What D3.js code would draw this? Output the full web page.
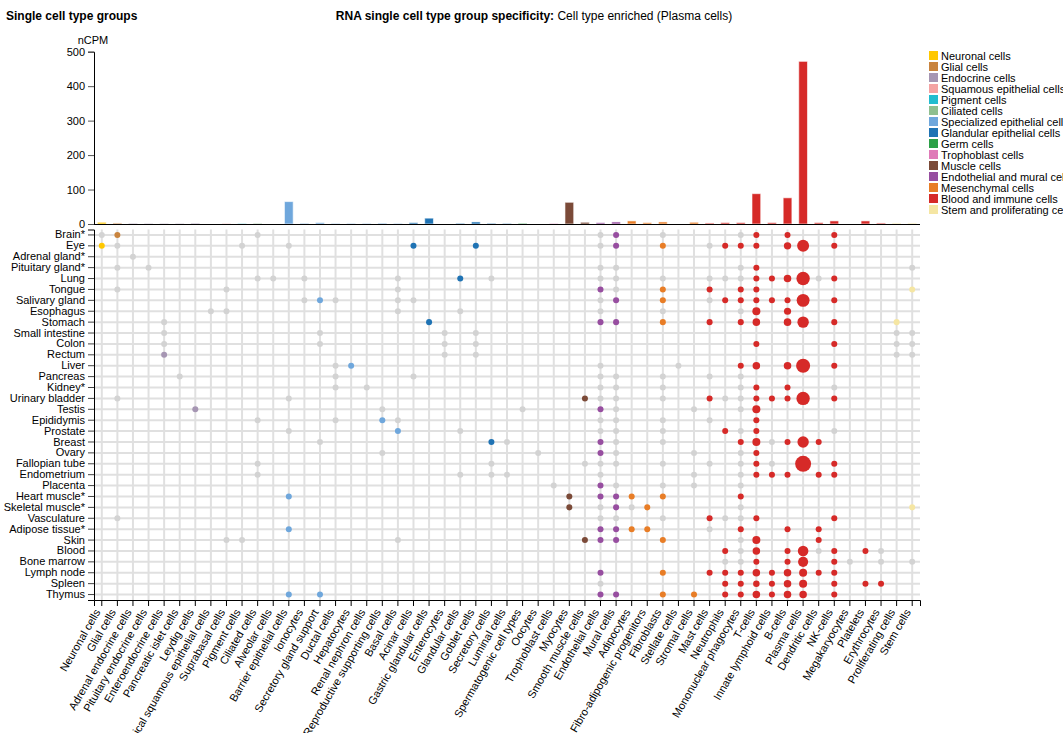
<!DOCTYPE html>
<html>
<head>
<meta charset="utf-8">
<script src="https://cdn.jsdelivr.net/npm/d3@7"></script>
<style>
    body { margin: 0; background: #fff; }
    svg { display: block; }
</style>
</head>
<body>
<div id="chart"></div>
<script>
const groups = [
    "Neuronal cells", "Glial cells", "Endocrine cells", "Squamous epithelial cells",
    "Pigment cells", "Ciliated cells", "Specialized epithelial cells", "Glandular epithelial cells",
    "Germ cells", "Trophoblast cells", "Muscle cells", "Endothelial and mural cells",
    "Mesenchymal cells", "Blood and immune cells", "Stem and proliferating cells"
];
const groupColors = [
    "#ffc800", "#c9843e", "#a696b3", "#f4a3a3", "#22bccf", "#8fbf8f", "#6fa7dc", "#1f73b4",
    "#2ca048", "#df7ab8", "#7b4a38", "#974ea0", "#e87d26", "#d62a28", "#f5e6a3"
];

const cellTypes = [
    "Neuronal cells", "Glial cells", "Adrenal endocrine cells", "Pituitary endocrine cells",
    "Enteroendocrine cells", "Pancreatic islet cells", "Leydig cells", "Apical squamous epithelial cells",
    "Suprabasal cells", "Pigment cells", "Ciliated cells", "Alveolar cells", "Barrier epithelial cells",
    "Ionocytes", "Secretory gland support", "Ductal cells", "Hepatocytes", "Renal nephron cells",
    "Reproductive supporting cells", "Basal cells", "Acinar cells", "Gastric glandular cells",
    "Enterocytes", "Glandular cells", "Goblet cells", "Secretory cells", "Luminal cells",
    "Spermatogenic cell types", "Oocytes", "Trophoblast cells", "Myocytes", "Smooth muscle cells",
    "Endothelial cells", "Mural cells", "Adipocytes", "Fibro-adipogenic progenitors", "Fibroblasts",
    "Stellate cells", "Stromal cells", "Mast cells", "Neutrophils", "Mononuclear phagocytes",
    "T-cells", "Innate lymphoid cells", "B-cells", "Plasma cells", "Dendritic cells", "NK-cells",
    "Megakaryocytes", "Platelets", "Erythrocytes", "Proliferating cells", "Stem cells"
];
// index into groups for each cell type
const cellTypeGroup = [
    0, 1, 2, 2, 2, 2, 2, 3, 3, 4, 5, 6, 6, 6, 6, 6, 6, 6, 6, 6, 7, 7, 7, 7, 7, 7, 7,
    8, 8, 9, 10, 10, 11, 11, 12, 12, 12, 12, 12,
    13, 13, 13, 13, 13, 13, 13, 13, 13, 13, 13, 13, 14, 14
];
// max nCPM per cell type (bar chart)
const nCPM = [
    5, 3, 2, 1.5, 1.5, 1.5, 2.5, 0, 1.5, 1, 2, 0, 65, 2, 4, 1.5, 1.5, 1.5, 2.5, 1.5, 4, 17,
    0, 2, 6, 2, 1.5, 2, 0, 1.5, 63, 5, 4, 6, 9, 4, 6, 0, 5, 3, 4, 4, 88, 4, 76, 472, 4, 9,
    0, 9, 3, 3, 3
];
const yTicks = [0, 100, 200, 300, 400, 500];

const tissues = [
    "Brain*", "Eye", "Adrenal gland*", "Pituitary gland*", "Lung", "Tongue", "Salivary gland",
    "Esophagus", "Stomach", "Small intestine", "Colon", "Rectum", "Liver", "Pancreas", "Kidney*",
    "Urinary bladder", "Testis", "Epididymis", "Prostate", "Breast", "Ovary", "Fallopian tube",
    "Endometrium", "Placenta", "Heart muscle*", "Skeletal muscle*", "Vasculature", "Adipose tissue*",
    "Skin", "Blood", "Bone marrow", "Lymph node", "Spleen", "Thymus"
];
// per tissue: [cell type index, nCPM, 1 = coloured by group / 0 = grey]
const tissueDots = [
    [[0,1,0],[1,1,1],[10,1,0],[32,1,0],[33,1,1],[36,1,0],[41,1,0],[42,1,1],[44,1,1],[47,1,1]],
    [[0,1,1],[1,1,0],[9,1,0],[12,1,0],[20,1,1],[24,1,1],[32,1,0],[33,1,1],[36,1,1],[39,1,0],[40,1,1],[41,1,1],[42,1,1],[44,10,1],[45,115,1],[47,1,1]],
    [[2,1,0]],
    [[1,1,0],[3,1,0],[32,1,0],[33,1,0],[41,1,0],[42,1,1],[52,1,0]],
    [[10,1,0],[11,1,0],[13,1,0],[19,1,0],[23,1,1],[25,1,0],[32,1,0],[33,1,0],[36,1,0],[39,1,0],[40,1,0],[41,1,0],[42,1,1],[43,1,1],[44,12,1],[45,170,1],[46,1,0],[47,1,1]],
    [[1,1,0],[8,1,0],[19,1,0],[32,1,1],[33,1,0],[36,1,1],[39,1,1],[41,1,1],[42,1,1],[52,1,1]],
    [[13,1,0],[14,1,1],[15,1,0],[19,1,0],[20,1,0],[32,1,0],[33,1,1],[36,1,1],[39,1,0],[40,1,1],[41,1,1],[42,1,1],[43,1,1],[44,1,1],[45,150,1],[47,1,1]],
    [[7,1,0],[8,1,0],[19,1,0],[23,1,0],[32,1,0],[36,1,0],[41,1,0],[42,18,1],[44,8,1]],
    [[4,1,0],[21,1,1],[32,1,1],[33,1,1],[36,1,1],[39,1,1],[41,1,1],[42,12,1],[44,12,1],[45,96,1],[47,1,1],[51,1,1]],
    [[4,1,0],[14,1,0],[22,1,0],[24,1,0],[51,1,0],[52,1,0]],
    [[4,1,0],[14,1,0],[22,1,0],[24,1,0],[42,1,1],[47,1,1],[51,1,0],[52,1,0]],
    [[4,1,1],[22,1,0],[24,1,0],[51,1,0],[52,1,0]],
    [[15,1,0],[16,1,1],[32,1,0],[37,1,0],[41,1,1],[42,12,1],[44,12,1],[45,200,1],[47,1,1]],
    [[5,1,0],[15,1,0],[20,1,0],[32,1,0],[33,1,0],[36,1,0],[39,1,0],[41,1,0]],
    [[15,1,0],[17,1,0],[32,1,0],[33,1,0],[36,1,0],[41,1,0],[42,1,1],[44,1,1],[47,1,0]],
    [[1,1,0],[12,1,0],[31,1,1],[32,1,0],[33,1,0],[36,1,0],[39,1,1],[40,1,0],[41,1,0],[42,1,1],[43,1,1],[44,1,1],[45,170,1],[47,1,1]],
    [[6,1,1],[18,1,0],[27,1,0],[32,1,1],[33,1,0],[38,1,0],[41,1,0],[42,18,1]],
    [[10,1,0],[15,1,0],[18,1,1],[19,1,0],[32,1,0],[33,1,0],[36,1,0],[39,1,0],[42,1,1]],
    [[12,1,0],[19,1,1],[23,1,0],[32,1,0],[33,1,0],[36,1,0],[40,1,1],[41,1,0],[42,1,1],[47,1,0]],
    [[14,1,0],[25,1,1],[26,1,0],[32,1,1],[33,1,0],[36,1,0],[41,1,1],[42,18,1],[43,1,0],[44,1,1],[45,96,1],[46,1,1]],
    [[18,1,0],[28,1,0],[32,1,1],[33,1,0],[38,1,0],[41,1,0],[42,1,1]],
    [[10,1,0],[25,1,0],[31,1,0],[32,1,0],[33,1,0],[36,1,0],[39,1,0],[41,1,0],[42,1,1],[43,1,0],[45,300,1],[47,1,1]],
    [[10,1,0],[23,1,0],[25,1,0],[26,1,0],[32,1,0],[38,1,0],[41,1,0],[42,1,1],[43,1,1],[44,1,1],[46,1,1],[47,1,1]],
    [[29,1,0],[32,1,1],[33,1,0],[36,1,0],[38,1,0],[41,1,0]],
    [[12,1,1],[30,1,1],[32,1,1],[33,1,1],[34,1,1],[36,1,1],[41,1,1]],
    [[30,1,1],[32,1,0],[33,1,1],[34,1,0],[35,1,1],[41,1,0],[52,1,1]],
    [[1,1,0],[32,1,0],[33,1,0],[36,1,0],[39,1,1],[40,1,0],[41,1,0],[42,1,1],[47,1,1]],
    [[12,1,1],[32,1,1],[33,1,1],[34,1,1],[35,1,1],[39,1,0],[41,1,1],[44,1,1],[46,1,1]],
    [[8,1,0],[9,1,0],[19,1,0],[31,1,1],[32,1,1],[33,1,1],[36,1,1],[41,1,0],[42,18,1],[46,1,1]],
    [[40,1,1],[41,1,0],[42,12,1],[44,1,1],[45,72,1],[46,1,0],[47,1,1],[49,1,1],[50,1,0]],
    [[40,1,0],[41,1,0],[42,1,1],[44,1,1],[45,60,1],[47,1,1],[48,1,0],[50,1,0],[52,1,0]],
    [[32,1,1],[36,1,1],[39,1,1],[40,1,1],[41,1,1],[42,12,1],[43,1,1],[44,12,1],[45,18,1],[46,1,1],[47,1,1]],
    [[32,1,0],[40,1,1],[41,1,1],[42,3,1],[43,1,1],[44,12,1],[45,18,1],[47,1,1],[49,1,1],[50,1,1]],
    [[12,1,1],[14,1,1],[32,1,1],[33,1,1],[36,1,1],[38,1,1],[40,1,1],[41,1,1],[42,12,1],[43,1,1],[44,12,1],[45,12,1],[47,1,1]]
];

const labelFont = "'Liberation Sans', Arial, sans-serif";
const titleFont = "'Liberation Sans', Arial, sans-serif";

function drawChart() {
    const width = 1063;
    const height = 733;
    const left = 94, right = 920;
    const barTop = 51.7, barBottom = 224;
    const dotTop = 229.5, dotBottom = 600;

    const svg = d3.select("#chart")
        .append("svg")
        .attr("width", width)
        .attr("height", height);

    // titles
    svg.append("text")
        .attr("x", 6)
        .attr("y", 20)
        .style("font-family", titleFont)
        .style("font-size", "12px")
        .style("font-weight", "bold")
        .text("Single cell type groups");

    const title = svg.append("text")
        .attr("x", 534)
        .attr("y", 20)
        .attr("text-anchor", "middle")
        .style("font-family", titleFont)
        .style("font-size", "12px");
    title.append("tspan").style("font-weight", "bold").text("RNA single cell type group specificity:");
    title.append("tspan").text(" Cell type enriched (Plasma cells)");

    // x scale shared by bars and dots
    const x = d3.scaleBand()
        .domain(cellTypes)
        .range([left, right])
        .paddingInner(0.44)
        .paddingOuter(0.22);
    const cx = d => x(d) + x.bandwidth() / 2;

    // bar chart
    const y = d3.scaleLinear()
        .domain([0, 500])
        .range([barBottom, barTop]);

    const yAxis = svg.append("g")
        .attr("transform", `translate(${left},0)`)
        .call(d3.axisLeft(y).tickValues(yTicks).tickSize(6).tickPadding(3));
    yAxis.selectAll("text").style("font-family", labelFont).style("font-size", "11px").attr("fill", "#000");
    yAxis.selectAll(".tick line").attr("stroke", "#555");

    svg.append("text")
        .attr("x", 93)
        .attr("y", 44)
        .attr("text-anchor", "middle")
        .style("font-family", labelFont)
        .style("font-size", "11px")
        .text("nCPM");

    svg.append("g")
        .selectAll("rect")
        .data(cellTypes)
        .join("rect")
        .attr("x", d => x(d))
        .attr("y", (d, i) => y(nCPM[i]))
        .attr("width", x.bandwidth())
        .attr("height", (d, i) => y(0) - y(nCPM[i]))
        .attr("fill", (d, i) => groupColors[cellTypeGroup[i]])
        .attr("stroke", "#fff")
        .attr("stroke-opacity", 0.6)
        .attr("stroke-width", 1);

    svg.append("line")
        .attr("x1", left)
        .attr("x2", right)
        .attr("y1", barBottom + 0.5)
        .attr("y2", barBottom + 0.5)
        .attr("stroke", "#000");

    // dot matrix
    const yRow = d3.scaleBand()
        .domain(tissues)
        .range([dotTop, dotBottom]);
    const cy = d => yRow(d) + yRow.bandwidth() / 2;

    const grid = svg.append("g").attr("stroke", "#e0e0e0").attr("stroke-width", 2);
    grid.selectAll(".h")
        .data(tissues)
        .join("line")
        .attr("x1", left)
        .attr("x2", right)
        .attr("y1", d => cy(d))
        .attr("y2", d => cy(d));
    grid.selectAll(".v")
        .data(cellTypes)
        .join("line")
        .attr("x1", d => cx(d))
        .attr("x2", d => cx(d))
        .attr("y1", dotTop)
        .attr("y2", dotBottom);

    const r = d3.scaleSqrt()
        .domain([0, 300])
        .range([2.7, 8]);

    const dots = [];
    tissueDots.forEach((row, ti) => {
        row.forEach(([ci, v, c]) => {
            dots.push({tissue: tissues[ti], cell: cellTypes[ci], value: v,
                color: c ? groupColors[cellTypeGroup[ci]] : "#d3d3d3"});
        });
    });

    svg.append("g")
        .selectAll("circle")
        .data(dots)
        .join("circle")
        .attr("cx", d => cx(d.cell))
        .attr("cy", d => cy(d.tissue))
        .attr("r", d => r(d.value))
        .attr("fill", d => d.color);

    // row axis
    const rowAxis = svg.append("g")
        .attr("transform", `translate(${left},0)`)
        .call(d3.axisLeft(yRow).tickSize(6).tickPadding(3));
    rowAxis.selectAll("text").style("font-family", labelFont).style("font-size", "11px").attr("fill", "#000");
    rowAxis.selectAll(".tick line").attr("stroke", "#444");

    // column axis
    const colAxis = svg.append("g")
        .attr("transform", `translate(0,${dotBottom})`)
        .call(d3.axisBottom(x).tickSize(6).tickSizeOuter(6));
    colAxis.selectAll("text")
        .style("font-family", labelFont)
        .style("font-size", "11px")
        .attr("fill", "#000")
        .attr("text-anchor", "end")
        .attr("x", 0)
        .attr("y", 0)
        .attr("dy", 0)
        .attr("transform", "translate(-1,12) rotate(-60)");

    // legend
    const legend = svg.append("g")
        .attr("transform", "translate(929,51)");
    legend.selectAll("rect")
        .data(groups)
        .join("rect")
        .attr("x", 0)
        .attr("y", (d, i) => i * 11)
        .attr("width", 9)
        .attr("height", 9)
        .attr("fill", (d, i) => groupColors[i]);
    legend.selectAll("text")
        .data(groups)
        .join("text")
        .attr("x", 12)
        .attr("y", (d, i) => i * 11 + 8.5)
        .style("font-family", labelFont)
        .style("font-size", "11px")
        .text(d => d);
}

drawChart();
</script>
</body>
</html>
